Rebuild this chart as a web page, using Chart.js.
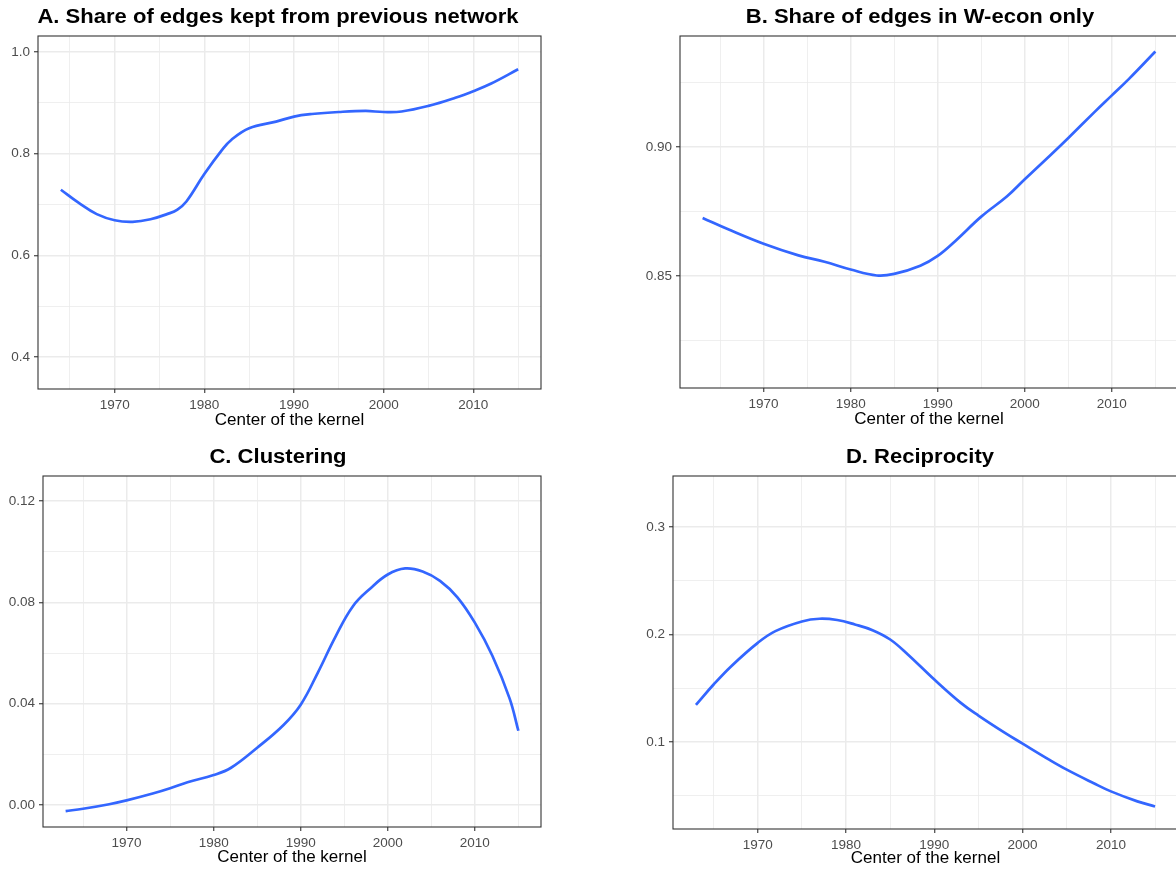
<!DOCTYPE html>
<html>
<head>
<meta charset="utf-8">
<script src="https://cdn.jsdelivr.net/npm/chart.js@4.4.0/dist/chart.umd.min.js"></script>
<style>
html, body { margin:0; padding:0; background:#fff; width:1176px; height:871px; overflow:hidden; }
.panel { position:absolute; }
</style>
</head>
<body>
<div class="panel" style="left:0px;top:0px;width:560px;height:440px"><canvas id="chartA"></canvas></div>
<div class="panel" style="left:620px;top:0px;width:600px;height:440px"><canvas id="chartB"></canvas></div>
<div class="panel" style="left:0px;top:440px;width:556px;height:431px"><canvas id="chartC"></canvas></div>
<div class="panel" style="left:620px;top:440px;width:600px;height:431px"><canvas id="chartD"></canvas></div>
<script>
// A. share of edges kept from previous network
const yearsA = [1964,1966,1968,1970,1972,1974,1976,1977,1978,1980,1982,1983,1985,1988,1990,1992,1995,1998,2000,2002,2005,2008,2010,2012,2015];
const keptA  = [0.729,0.703,0.681,0.669,0.666,0.671,0.682,0.690,0.706,0.760,0.808,0.827,0.850,0.863,0.873,0.878,0.882,0.884,0.882,0.883,0.894,0.910,0.923,0.938,0.966];

// B. share of edges in W-econ only
const yearsB = [1963,1966,1970,1974,1977,1980,1983,1985,1988,1990,1992,1995,1998,2000,2003,2005,2008,2010,2012,2015];
const weconB = [0.8725,0.868,0.8625,0.858,0.8555,0.8525,0.8502,0.8508,0.854,0.8578,0.8635,0.873,0.881,0.8875,0.897,0.9035,0.9135,0.920,0.9265,0.937];

// C. clustering
const yearsC = [1963,1965,1968,1970,1973,1975,1977,1980,1982,1985,1988,1990,1992,1994,1996,1998,2000,2002,2004,2006,2008,2010,2012,2014,2015];
const clustC = [-0.0024,-0.0015,0.0003,0.0018,0.0045,0.0066,0.0090,0.0118,0.0147,0.0226,0.0315,0.0396,0.0525,0.0665,0.0785,0.0855,0.0910,0.0934,0.0922,0.0885,0.0820,0.0720,0.0590,0.0420,0.0293];

// D. reciprocity
const yearsD = [1963,1965,1967,1970,1972,1975,1977,1979,1981,1983,1985,1987,1990,1993,1995,1998,2000,2003,2005,2008,2010,2013,2015];
const recipD = [0.1345,0.1534,0.1705,0.1922,0.2031,0.2121,0.2146,0.2134,0.2093,0.2040,0.1953,0.1814,0.1580,0.1363,0.1245,0.1084,0.0984,0.0835,0.0742,0.0618,0.0540,0.0447,0.0400];

const xTitle = "Center of the kernel";
const FONT = "'Liberation Sans', Arial, Helvetica, sans-serif";

// full border round the plot area (theme_bw) and the panel title
const panelPlugin = {
	id: 'panelDecor',
	afterDraw(chart) {
		const a = chart.chartArea, ctx = chart.ctx;
		const o = chart.options.plugins.panelDecor;
		ctx.save();
		ctx.strokeStyle = '#333333';
		ctx.lineWidth = 1.1;
		ctx.strokeRect(a.left, a.top, a.right - a.left, a.bottom - a.top);
		// title, slightly widened like the original
		ctx.translate(o.titleX, 17.5);
		ctx.scale(1.13, 1);
		ctx.font = 'bold 19.5px ' + FONT;
		ctx.fillStyle = '#000';
		ctx.textAlign = 'center';
		ctx.textBaseline = 'middle';
		ctx.fillText(o.title, 0, 0);
		ctx.restore();
	}
};

function isMajor(v, major) {
	return Math.abs(v / major - Math.round(v / major)) < 1e-6;
}

function makePanel(p) {
	const pts = p.years.map((y, i) => ({x: y, y: p.values[i]}));
	new Chart(document.getElementById(p.id), {
		type: 'line',
		data: { datasets: [{
			data: pts,
			borderColor: '#3366FF',
			borderWidth: 2.7,
			pointRadius: 0,
			fill: false,
			tension: 0.4
		}]},
		options: {
			responsive: true,
			maintainAspectRatio: false,
			animation: false,
			layout: { padding: { left: 0, right: p.padRight, top: 36, bottom: 0 } },
			plugins: {
				legend: { display: false },
				tooltip: { enabled: false },
				title: { display: false },
				panelDecor: { title: p.title, titleX: p.titleX }
			},
			scales: {
				x: {
					type: 'linear',
					min: p.xMin, max: p.xMax,
					afterFit: s => { s.height = p.xH; },
					border: { display: false },
					grid: {
						color: '#ebebeb',
						lineWidth: c => isMajor(c.tick.value, 10) ? 1.5 : 0.8,
						tickColor: c => isMajor(c.tick.value, 10) ? '#333333' : 'rgba(0,0,0,0)',
						tickLength: 4,
						tickWidth: 1.1
					},
					ticks: {
						stepSize: 5,
						includeBounds: false,
						autoSkip: false,
						maxRotation: 0,
						padding: 4,
						color: '#4d4d4d',
						font: { family: FONT, size: 13.5 },
						callback: v => isMajor(v, 10) ? String(v) : ''
					},
					title: {
						display: true,
						text: xTitle,
						color: '#000',
						font: { family: FONT, size: 17 },
						padding: { top: 0, bottom: p.xTitlePad }
					}
				},
				y: {
					min: p.yMin, max: p.yMax,
					afterFit: s => { s.width = p.yW; },
					border: { display: false },
					grid: {
						color: '#ebebeb',
						lineWidth: c => isMajor(c.tick.value, p.yMajor) ? 1.5 : 0.8,
						tickColor: c => isMajor(c.tick.value, p.yMajor) ? '#333333' : 'rgba(0,0,0,0)',
						tickLength: 4,
						tickWidth: 1.1
					},
					ticks: {
						stepSize: p.yStep,
						includeBounds: false,
						autoSkip: false,
						padding: 4,
						color: '#4d4d4d',
						font: { family: FONT, size: 13.5 },
						callback: v => isMajor(v, p.yMajor) ? v.toFixed(p.dec) : ''
					}
				}
			}
		},
		plugins: [panelPlugin]
	});
}

makePanel({ id: 'chartA', title: 'A. Share of edges kept from previous network', titleX: 278,
	years: yearsA, values: keptA, xMin: 1961.45, xMax: 2017.55,
	yMin: 0.337, yMax: 1.0315, yStep: 0.1, yMajor: 0.2, dec: 1,
	yW: 38, xH: 51, padRight: 19, xTitlePad: 9 });

makePanel({ id: 'chartB', title: 'B. Share of edges in W-econ only', titleX: 300,
	years: yearsB, values: weconB, xMin: 1960.4, xMax: 2017.6,
	yMin: 0.8066, yMax: 0.943, yStep: 0.025, yMajor: 0.05, dec: 2,
	yW: 60, xH: 52, padRight: 42, xTitlePad: 10 });

makePanel({ id: 'chartC', title: 'C. Clustering', titleX: 278,
	years: yearsC, values: clustC, xMin: 1960.4, xMax: 2017.6,
	yMin: -0.0087, yMax: 0.1299, yStep: 0.02, yMajor: 0.04, dec: 2,
	yW: 43, xH: 44, padRight: 15, xTitlePad: 3 });

makePanel({ id: 'chartD', title: 'D. Reciprocity', titleX: 300,
	years: yearsD, values: recipD, xMin: 1960.4, xMax: 2017.6,
	yMin: 0.019, yMax: 0.3474, yStep: 0.05, yMajor: 0.1, dec: 1,
	yW: 53, xH: 42, padRight: 42, xTitlePad: 2 });
</script>
</body>
</html>
